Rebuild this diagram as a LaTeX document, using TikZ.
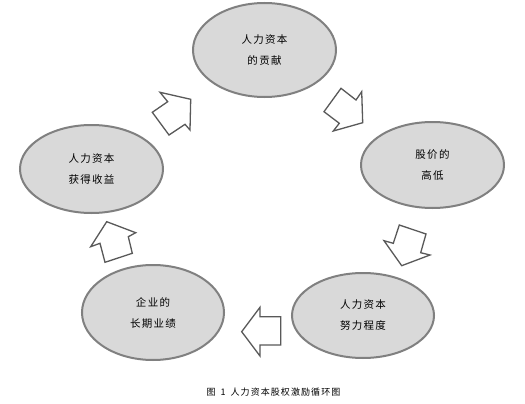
\documentclass[tikz,border=0pt]{standalone}
\usepackage{fontspec}
\newfontfamily\cjk[LetterSpace=12]{Noto Sans CJK SC}
\usetikzlibrary{shapes.geometric}
\definecolor{ellfill}{HTML}{D9D9D9}
\definecolor{ellborder}{HTML}{808080}
\definecolor{arrowline}{HTML}{595959}
\begin{document}
\begin{tikzpicture}[x=1pt,y=-1pt,
  bubble/.style={ellipse, draw=ellborder, fill=ellfill, line width=2pt, inner sep=0pt,
    align=center, text=black, font=\cjk\fontsize{10.5}{21}\selectfont},
  blockarrow/.style={draw=arrowline, fill=white, line width=1.3pt, line join=miter},
  captiontext/.style={text=black, font=\cjk\fontsize{9}{11}\selectfont, inner sep=0pt}]
\useasboundingbox[fill=white] (0,0) rectangle (525,404);

\node[bubble, minimum width=143pt, minimum height=94pt] (contrib) at (264.5,50) {人力资本\\的贡献};
\node[bubble, minimum width=143pt, minimum height=86pt] (price) at (432.5,165) {股价的\\高低};
\node[bubble, minimum width=142pt, minimum height=85pt] (effort) at (363,315.5) {人力资本\\努力程度};
\node[bubble, minimum width=142pt, minimum height=95pt] (perf) at (153,312.5) {企业的\\长期业绩};
\node[bubble, minimum width=143pt, minimum height=88pt] (gain) at (91.5,169) {人力资本\\获得收益};

% block arrows
\draw[blockarrow] (152.3,112.3) -- (167.7,101.7) -- (160,92.3) -- (190.7,99.3) -- (190,130) -- (185,124.3) -- (169,135) -- cycle;
\draw[blockarrow] (341,88.3) -- (356,100) -- (361.7,91.7) -- (362.7,122.7) -- (333.3,131) -- (339.3,123.3) -- (324,111.7) -- cycle;
\draw[blockarrow] (426,234) -- (420.7,252.7) -- (430,255) -- (401.7,265.7) -- (384,240.7) -- (393.3,243.3) -- (399.3,225) -- cycle;
\draw[blockarrow] (280.7,316.7) -- (260,316.7) -- (260,307.3) -- (241.7,331.7) -- (260,356) -- (260,345) -- (280.7,345) -- cycle;
\draw[blockarrow] (132.3,253.3) -- (128.3,236.7) -- (135.7,232.7) -- (106.7,221.7) -- (90.7,246.7) -- (100,243.3) -- (105,262.3) -- cycle;

\node[captiontext] (caption) at (273.5,392) {图\hspace{5pt}1\hspace{5pt}人力资本股权激励循环图};
\end{tikzpicture}
\end{document}
